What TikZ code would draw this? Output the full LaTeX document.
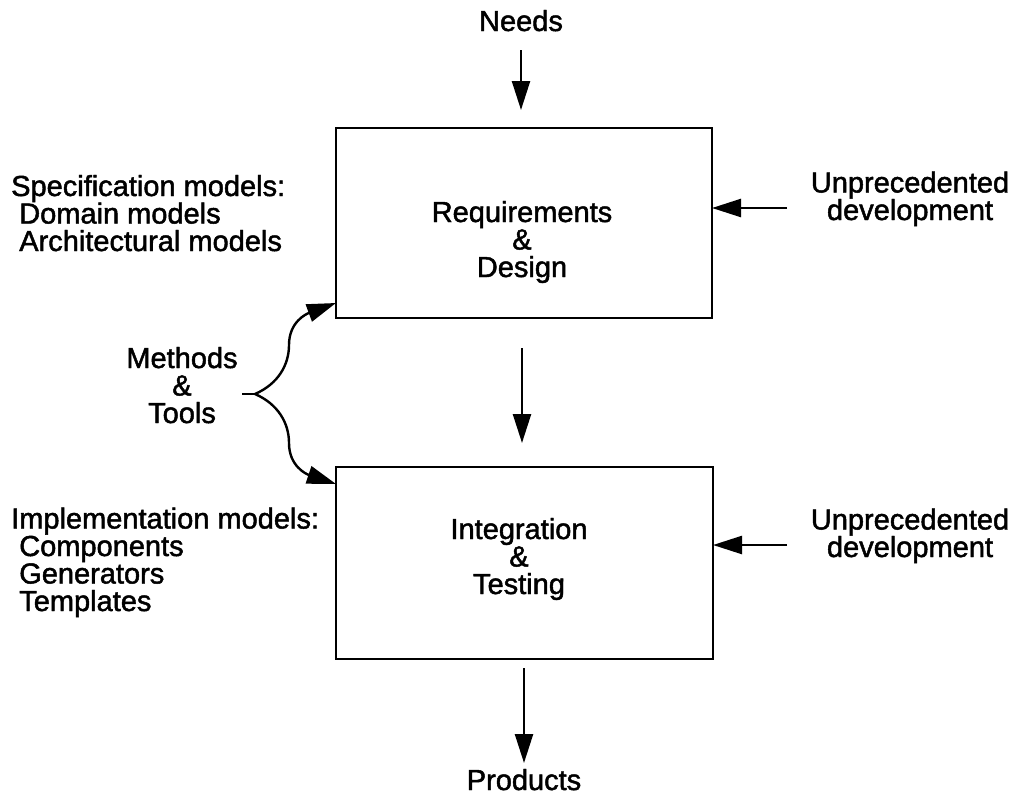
\documentclass[tikz,border=0pt]{standalone}
\usepackage{fontspec}
\setmainfont{Liberation Sans}[FakeBold=1.6]
\usetikzlibrary{arrows.meta}
\tikzset{
  txt/.style={font=\fontsize{29}{27.5}\selectfont, inner sep=0pt, anchor=base},
  procbox/.style={draw, line width=2.6pt},
  flow/.style={line width=2.4pt, -{Triangle[length=29pt,width=18pt]}},
}
\begin{document}
\begin{tikzpicture}[x=1pt,y=-1pt]
\useasboundingbox (0,0) rectangle (1017,798);
% boxes
\draw[procbox] (336,128) rectangle (712,318);
\draw[procbox] (336,467) rectangle (713,659);
% texts (base anchor = baseline of last line)
\node[txt] (needs) at (521,31) {Needs};
\node[txt, align=center] (req) at (522,277) {Requirements\\\&\\Design};
\node[txt, align=center] (int) at (519,594) {Integration\\\&\\Testing};
\node[txt] (prod) at (524,790) {Products};
\node[txt, align=center] (un1) at (910,220) {Unprecedented\\development};
\node[txt, align=center] (un2) at (910,557) {Unprecedented\\development};
\node[txt, align=left, anchor=base west] (spec) at (11,251) {Specification models:\\\ Domain models\\\ Architectural models};
\node[txt, align=left, anchor=base west] (impl) at (11,611) {Implementation models:\\\ Components\\\ Generators\\\ Templates};
\node[txt, align=center] (mt) at (182,423) {Methods\\\&\\Tools};
% arrow anchor coordinates
\coordinate (needsA) at (521,50);
\coordinate (rtop) at (521,128);
\coordinate (rbot) at (522,348);
\coordinate (ttop) at (522,467);
\coordinate (tbot) at (524,668);
\coordinate (prodA) at (524,763);
\coordinate (u1s) at (787,208);
\coordinate (u1e) at (712,208);
\coordinate (u2s) at (787,545);
\coordinate (u2e) at (713,545);
\coordinate (stub) at (242,394);
\coordinate (fork) at (255,394);
\coordinate (tipA) at (336,303);
\coordinate (tipB) at (336,484);
% straight arrows
\draw[flow] (needsA) -- ([yshift=18pt]rtop);
\draw[flow] (rbot) -- ([yshift=24pt]ttop);
\draw[flow] (tbot) -- (prodA);
\draw[flow] (u1s) -- (u1e);
\draw[flow] (u2s) -- (u2e);
% forked curved arrows
\draw[line width=2.4pt] (stub) -- (fork);
\draw[flow] (fork) .. controls (278,384) and (289,365) .. (289,345)
  .. controls (289,322) and (306,314) .. (tipA);
\draw[flow] (fork) .. controls (278,404) and (289,423) .. (289,443)
  .. controls (289,466) and (306,474) .. (tipB);
\end{tikzpicture}
\end{document}
